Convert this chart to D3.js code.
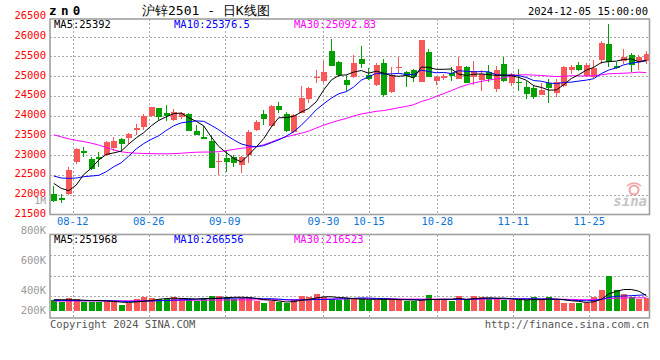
<!DOCTYPE html>
<html><head><meta charset="utf-8">
<script src="https://cdn.jsdelivr.net/npm/d3@7"></script>
<style>
body{margin:0;background:#fff}
svg{display:block}
text{font-family:"DejaVu Sans Mono",monospace}
</style>
</head><body>
<svg id="c" width="660" height="360"></svg>
<script>
// ---------- data ----------
const dates = ["2024-08-07","2024-08-08","2024-08-09","2024-08-12","2024-08-13","2024-08-14","2024-08-15","2024-08-16","2024-08-19","2024-08-20","2024-08-21","2024-08-22","2024-08-23","2024-08-26","2024-08-27","2024-08-28","2024-08-29","2024-08-30",
"2024-09-02","2024-09-03","2024-09-04","2024-09-05","2024-09-06","2024-09-09","2024-09-10","2024-09-11","2024-09-12","2024-09-13","2024-09-18","2024-09-19","2024-09-20","2024-09-23","2024-09-24","2024-09-25","2024-09-26","2024-09-27","2024-09-30",
"2024-10-08","2024-10-09","2024-10-10","2024-10-11","2024-10-14","2024-10-15","2024-10-16","2024-10-17","2024-10-18","2024-10-21","2024-10-22","2024-10-23","2024-10-24","2024-10-25","2024-10-28","2024-10-29","2024-10-30","2024-10-31",
"2024-11-01","2024-11-04","2024-11-05","2024-11-06","2024-11-07","2024-11-08","2024-11-11","2024-11-12","2024-11-13","2024-11-14","2024-11-15","2024-11-18","2024-11-19","2024-11-20","2024-11-21","2024-11-22","2024-11-25","2024-11-26","2024-11-27","2024-11-28","2024-11-29",
"2024-12-02","2024-12-03","2024-12-04","2024-12-05"];

const opens = [22004,21911,22012,22822,23101,22890,22940,22991,23185,23405,23438,23632,23717,23987,24189,24071,23886,23970,24038,23616,
23464,23363,22823,22933,22958,22747,23000,23633,24038,23734,24241,24038,23591,24072,24426,24950,24874,25633,25355,24899,
24967,25431,25026,24772,25338,24604,25194,25110,25152,24857,25599,24880,24941,25085,24933,25220,24983,24899,25110,24660,
25299,24812,24855,24718,24684,24530,24812,24573,24744,25145,25274,25000,24974,25410,25812,25256,25385,25530,25368,25368];
const highs = [22215,22004,22687,23168,23211,22957,23075,23363,23447,23430,23548,23784,24038,24223,24200,24274,24156,24088,24054,23751,
23734,23506,23042,23127,23000,22975,23633,23886,24139,24258,24342,24089,24030,24747,24730,25152,25388,25929,25371,25017,
25532,25760,25211,25338,25422,25237,25490,25127,25169,25912,25675,24990,25051,25237,25473,25253,25380,25152,25279,25250,
25470,25086,25171,24872,24769,24829,24915,24915,25256,25282,25359,25333,25402,25898,26325,25342,25684,25573,25530,25641];
const lows = [21818,21776,21995,22772,22940,22620,22704,22974,23109,23076,23270,23506,23632,23970,23869,23869,23869,23903,23599,23500,
23397,22663,22485,22578,22688,22553,22806,23608,23760,23718,24055,23591,23566,24055,24325,24815,24815,25245,24983,24629,
24941,25194,24899,24747,24477,24578,25068,24730,24857,24840,24967,24775,24899,24882,24916,24815,24772,24620,24857,24590,
24846,24744,24632,24427,24427,24513,24316,24461,24726,25060,25128,24974,24957,25299,25239,25188,25299,25103,25154,25316];
const closes = [21843,21860,22620,23151,23059,22645,22890,23329,23346,23286,23531,23683,23987,24206,23970,23987,24088,24054,23616,23514,
23414,22680,22857,22831,22789,22958,23591,23844,23903,24241,24139,23608,24013,24435,24696,24983,25110,25262,25017,24772,
25338,25304,24916,25279,24519,25026,25228,25000,24967,25912,24983,24985,25000,25009,25253,24832,25127,25043,24916,25160,
24872,25043,24838,24555,24461,24658,24701,24855,25231,25231,25145,25274,25214,25838,25359,25197,25487,25274,25487,25556];
const volumes = [175000,152000,208000,192000,152000,152000,152000,175000,152000,93000,
131000,192000,230000,213000,192000,192000,225000,208000,192000,164000,
208000,241000,241000,225000,202000,218000,218000,164000,126000,164000,
152000,131000,192000,241000,225000,274000,225000,202000,175000,202000,
202000,202000,175000,175000,202000,202000,175000,164000,164000,175000,
257000,185000,185000,164000,241000,175000,241000,225000,202000,202000,
185000,175000,175000,175000,225000,175000,225000,175000,131000,131000,
131000,131000,225000,339000,569000,344000,279000,230000,202000,213000];

// moving-average values before a full window is available
const ma5Head = [22282,22156,22097,22240];
const ma10Head = [22468,22417,22409,22417,22451,22468,22485,22577,22704];
const ma30Head = [23510,23460,23410,23370,23340,23300,23250,23190,23130,23080,23060,23045,23040,23035,23030,23030,23035,23045,23060,23070,23075,23075,23085,23110,23140,23170,23190,23210,23260];
const vma5Head = [185000,185000,184000,182000];
const vma10Head = [172000,172000,171000,171000,170000,170000,169000,168000,166000];
const vma30Head = [162000,162000,163000,163000,164000,164000,165000,165000,166000,166000,167000,168000,169000,170000,171000,172000,173000,174000,175000,176000,177000,178000,179000,180000,181000,181000,182000,183000,184000];

const priceTicks = [21500,22000,22500,23000,23500,24000,24500,25000,25500,26000,26500];
const volTicks = [200000,400000,600000,800000,1000000];
const volTickLabels = ["200K","400K","600K","800K","1M"];
const dateTicks = ["2024-08-12","2024-08-26","2024-09-09","2024-09-30","2024-10-15","2024-10-28","2024-11-11","2024-11-25"];
const priceLegend = ["MA5:25392","MA10:25376.5","MA30:25092.83"];
const volLegend = ["MA5:251968","MA10:266556","MA30:216523"];
const maColors = ["#000000","#0000ff","#ff00ff"];
const titleCode = "zn0";
const titleName = "沪锌2501 - 日K线图";
const stamp = "2024-12-05 15:00:00";

// ---------- layout ----------
const L = 50, R = 650;
const pTop = 19, pBot = 214.5;
const vTop = 234.5, vBot = 318;
const RED = "#f85858", GREEN = "#00a000", GRID = "#aaaaaa", BORDER = "#a0a0a0";

const svg = d3.select("#c");
const xb = d3.scaleBand().domain(dates).range([L, R]);
const xp = d3.scalePoint().domain(dates).range([L, R]);
const y = d3.scaleLinear().domain([22000, 26000]).range([194.5, 36.5]);
const yv = d3.scaleLinear().domain([0, 1260000]).range([311, 234]);
const yvLab = d3.scaleLinear().domain([200000, 400000, 1000000]).range([310.3, 290.3, 200.3]);
const vGrid = d3.scaleLinear().domain([0, 4]).range([316.2, 234.8]);
const cx = d => xb(d) + xb.bandwidth() / 2;

function movingAvg(arr, n, head) {
  return arr.map((v, i) => i < n - 1 ? head[i] : d3.mean(arr.slice(i - n + 1, i + 1)));
}
const ma = [movingAvg(closes, 5, ma5Head), movingAvg(closes, 10, ma10Head), movingAvg(closes, 30, ma30Head)];
const vma = [movingAvg(volumes, 5, vma5Head), movingAvg(volumes, 10, vma10Head), movingAvg(volumes, 30, vma30Head)];

const defs = svg.append("defs");
defs.append("clipPath").attr("id", "pc").append("rect").attr("x", L).attr("y", pTop).attr("width", R - L).attr("height", pBot - pTop);
defs.append("clipPath").attr("id", "vc").append("rect").attr("x", L).attr("y", vTop).attr("width", R - L).attr("height", vBot - vTop);

const crisp = v => Math.round(v) + 0.5;

// ---------- grids ----------
const grid = svg.append("g").attr("stroke", GRID).attr("stroke-width", 1).attr("stroke-dasharray", "2,2").attr("shape-rendering", "crispEdges");
grid.selectAll(".hp").data(priceTicks.filter(t => y(t) > pTop + 2 && y(t) < pBot - 2)).join("line")
  .attr("x1", L).attr("x2", R).attr("y1", d => crisp(y(d))).attr("y2", d => crisp(y(d)));
grid.selectAll(".hv").data([1, 2, 3]).join("line").attr("class", "hv")
  .attr("x1", L).attr("x2", R).attr("y1", d => crisp(vGrid(d))).attr("y2", d => crisp(vGrid(d)));
grid.selectAll(".vp").data(dateTicks).join("line").attr("class", "vp")
  .attr("x1", d => crisp(xp(d))).attr("x2", d => crisp(xp(d))).attr("y1", pTop).attr("y2", pBot);
grid.selectAll(".vv").data(dateTicks).join("line").attr("class", "vv")
  .attr("x1", d => crisp(xp(d))).attr("x2", d => crisp(xp(d))).attr("y1", vTop).attr("y2", vBot);

// ---------- watermark ----------
const wm = svg.append("g");
wm.append("circle").attr("cx", 634).attr("cy", 190).attr("r", 4.5).attr("fill", "none").attr("stroke", "#f2a4a4").attr("stroke-width", 2);
wm.append("path").attr("d", "M627,186 Q634,180 641,186").attr("fill", "none").attr("stroke", "#f2a4a4").attr("stroke-width", 1.5);
wm.append("text").attr("x", 647).attr("y", 206).attr("text-anchor", "end").attr("font-family", "DejaVu Sans").attr("font-style", "italic").attr("font-weight", "bold").attr("font-size", 14).attr("fill", "#c4c4c4").text("sina");

// ---------- candles ----------
const idx = d3.range(dates.length);
const cg = svg.append("g").attr("clip-path", "url(#pc)").attr("shape-rendering", "crispEdges");
cg.selectAll(".wick").data(idx).join("line")
  .attr("x1", i => Math.floor(cx(dates[i])) + 0.5).attr("x2", i => Math.floor(cx(dates[i])) + 0.5)
  .attr("y1", i => y(highs[i])).attr("y2", i => y(lows[i]))
  .attr("stroke", i => closes[i] >= opens[i] ? RED : GREEN).attr("stroke-width", 1);
cg.selectAll(".body").data(idx).join("rect")
  .attr("x", i => Math.floor(cx(dates[i])) - 2.5)
  .attr("width", 6)
  .attr("y", i => y(Math.max(opens[i], closes[i])))
  .attr("height", i => Math.max(1, Math.abs(y(opens[i]) - y(closes[i]))))
  .attr("fill", i => closes[i] >= opens[i] ? RED : GREEN);

// MA lines (price)
const line = d3.line().x((v, i) => cx(dates[i])).y(v => y(v));
const lg = svg.append("g").attr("clip-path", "url(#pc)");
[2, 1, 0].forEach(k => lg.append("path").datum(ma[k]).attr("d", line).attr("fill", "none").attr("stroke", maColors[k]).attr("stroke-width", 1));

// ---------- volume ----------
const vg = svg.append("g").attr("clip-path", "url(#vc)").attr("shape-rendering", "crispEdges");
vg.selectAll("rect").data(idx).join("rect")
  .attr("x", i => Math.floor(cx(dates[i])) - 2.5)
  .attr("width", 6)
  .attr("y", i => yv(volumes[i]))
  .attr("height", i => yv(0) - yv(volumes[i]))
  .attr("fill", i => closes[i] >= opens[i] ? RED : GREEN);
const vline = d3.line().x((v, i) => cx(dates[i])).y(v => yv(v));
const vlg = svg.append("g").attr("clip-path", "url(#vc)");
[2, 1, 0].forEach(k => vlg.append("path").datum(vma[k]).attr("d", vline).attr("fill", "none").attr("stroke", maColors[k]).attr("stroke-width", 1));

// ---------- frames ----------
svg.append("rect").attr("x", L).attr("y", pTop).attr("width", R - L - 0.5).attr("height", pBot - pTop)
  .attr("fill", "none").attr("stroke", BORDER).attr("stroke-width", 1.6);
svg.append("rect").attr("x", L).attr("y", vTop).attr("width", R - L - 0.5).attr("height", vBot - vTop)
  .attr("fill", "none").attr("stroke", BORDER).attr("stroke-width", 1.6);

// ---------- axis labels ----------
svg.append("g").selectAll("text").data(priceTicks).join("text")
  .attr("x", 46).attr("y", d => y(d) + 2.5).attr("text-anchor", "end")
  .attr("font-size", 10.5).attr("fill", "#ff0000").text(d => d);
svg.append("g").selectAll("text").data(volTicks).join("text")
  .attr("x", 46).attr("y", d => yvLab(d) + 3.5).attr("text-anchor", "end")
  .attr("font-size", d => d >= 1000000 ? 9.5 : 10.5).attr("fill", "#9a9a9a").text((d, i) => volTickLabels[i]);
svg.append("g").selectAll("text").data(dateTicks).join("text")
  .attr("x", d => xp(d)).attr("y", 225).attr("text-anchor", "middle")
  .attr("font-size", 10.5).attr("fill", "#0a74d8").text(d => d.slice(5));

// ---------- legends ----------
svg.append("g").selectAll("text").data(priceLegend).join("text")
  .attr("x", (d, i) => L + 4 + i * 120).attr("y", 27.5).attr("font-size", 10.5)
  .attr("fill", (d, i) => maColors[i]).text(d => d);
svg.append("g").selectAll("text").data(volLegend).join("text")
  .attr("x", (d, i) => L + 4 + i * 120).attr("y", 242.5).attr("font-size", 10.5)
  .attr("fill", (d, i) => maColors[i]).text(d => d);

// ---------- titles ----------
svg.append("text").attr("x", 49).attr("y", 15).attr("font-size", 12.5).attr("font-weight", "bold")
  .attr("letter-spacing", 4.4).attr("fill", "#000").text(titleCode);
svg.append("text").attr("x", 142).attr("y", 15).attr("font-family", "Noto Sans CJK SC")
  .attr("font-size", 13).attr("fill", "#000").text(titleName);
svg.append("text").attr("x", 648).attr("y", 15).attr("text-anchor", "end").attr("font-size", 10.5)
  .attr("fill", "#000").text(stamp);
svg.append("text").attr("x", L).attr("y", 328).attr("font-size", 10.5).attr("fill", "#555").text("Copyright 2024 SINA.COM");
svg.append("text").attr("x", 649).attr("y", 328).attr("text-anchor", "end").attr("font-size", 10.5).attr("fill", "#555").text("http://finance.sina.com.cn");
</script>
</body></html>
